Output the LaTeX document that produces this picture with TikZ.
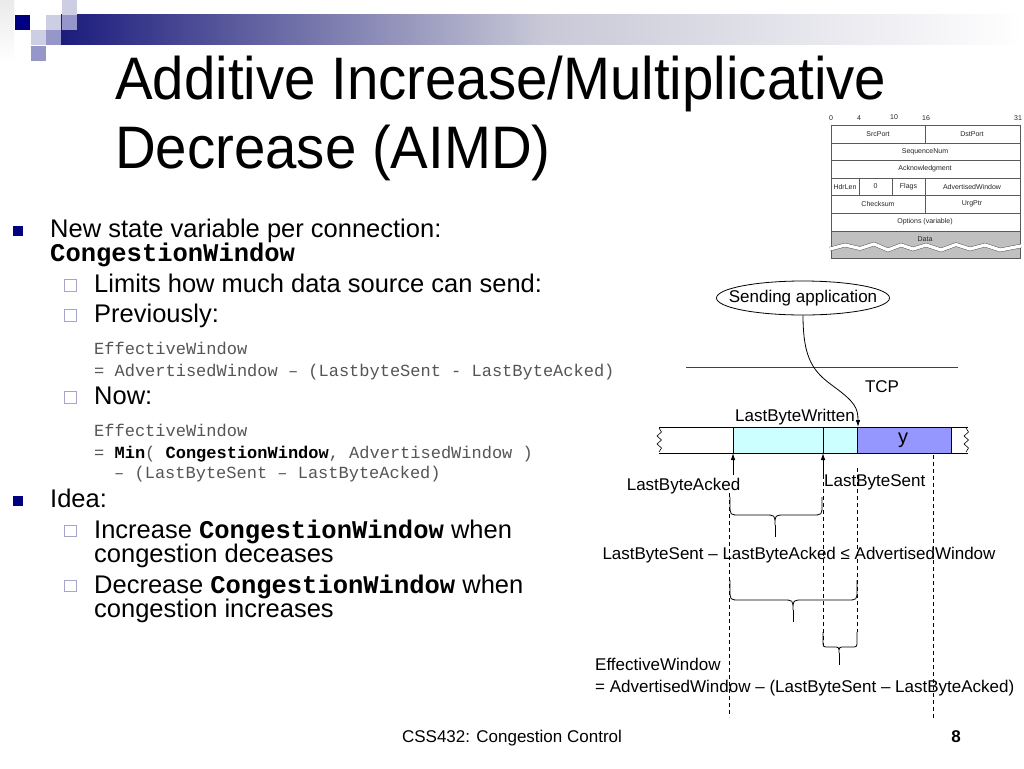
\documentclass[tikz,border=0pt]{standalone}
\usepackage{fontspec}
\setmainfont{Liberation Sans}
\setmonofont{Liberation Mono}
\newfontfamily\titlefont[FakeStretch=0.94]{Liberation Sans}
\usetikzlibrary{arrows.meta,shapes.geometric}
\definecolor{navy}{RGB}{0,0,128}
\definecolor{barnavy}{RGB}{28,28,125}
\definecolor{barmid}{RGB}{200,200,215}
\definecolor{sqlight}{RGB}{205,205,228}
\definecolor{sqmed}{RGB}{150,150,200}
\definecolor{subbox}{RGB}{165,165,205}
\definecolor{codegray}{RGB}{85,85,85}
\definecolor{bufcyan}{RGB}{204,255,255}
\definecolor{bufblue}{RGB}{150,150,255}
\definecolor{datagray}{RGB}{192,192,192}
\definecolor{tblline}{RGB}{90,90,90}
\newcommand\drawbrace[7]{% xl xr ytop ymid xc ytip r
  \draw[bracestyle] (#1,#3) -- (#1,#4-#7) .. controls (#1,#4) .. (#1+#7,#4)
    -- (#5-#7,#4) .. controls (#5,#4) .. (#5,#4+#7)
    .. controls (#5,#4) .. (#5+#7,#4) -- (#2-#7,#4)
    .. controls (#2,#4) .. (#2,#4-#7) -- (#2,#3);
  \draw[bracestyle] (#5,#4+#7) -- (#5,#6);}
\begin{document}
\begin{tikzpicture}[x=1pt,y=-1pt,
  txt/.style={anchor=base west, inner sep=0pt, font=\fontsize{25.5}{25.5}\selectfont},
  code/.style={anchor=base west, inner sep=0pt, font=\fontsize{17}{17}\selectfont\ttfamily, text=codegray},
  bulletsq/.style={fill=navy, minimum size=10pt, inner sep=0pt},
  subsq/.style={draw=subbox, fill=white, minimum size=11.5pt, inner sep=0pt, line width=0.8pt},
  dia/.style={font=\fontsize{17}{17}\selectfont, inner sep=0pt},
  hdr/.style={font=\fontsize{7}{7}\selectfont, inner sep=0pt, text=black!85},
  dashline/.style={dash pattern=on 4pt off 3pt, line width=0.7pt},
  bracestyle/.style={line width=0.8pt},
  tiparrow/.style={-{Latex[length=7pt,width=4.5pt]}, line width=0.8pt},
  tbl/.style={draw=tblline, line width=0.5pt}]
\useasboundingbox (0,0) rectangle (1024,768);
\fill[white] (0,0) rectangle (1024,768);
% ---- top decoration ----
\shade[top color=black!8, bottom color=white] (0,0) rectangle (14,62);
\shade[left color=barnavy, right color=white, middle color=barmid] (61,15) rectangle (1024,45);
\fill[sqlight] (62,0) rectangle (77,15);
\fill[navy] (15,15) rectangle (30,30);
\fill[sqlight] (46,15) rectangle (61,30);
\fill[sqmed] (62,15) rectangle (77,30);
\fill[sqlight] (31,30) rectangle (46,45);
\fill[sqmed] (46,30) rectangle (61,45);
\fill[sqmed] (31,46) rectangle (46,61);
% ---- title ----
\node[anchor=base west, inner sep=0pt, font=\titlefont\fontsize{60}{60}\selectfont] (t1) at (115,99) {Additive Increase/Multiplicative};
\node[anchor=base west, inner sep=0pt, font=\titlefont\fontsize{60}{60}\selectfont] (t2) at (115,168) {Decrease (AIMD)};
% ---- bullets ----
\node[bulletsq] (b1) at (17.5,230.5) {};
\node[txt] (l1) at (50,237) {New state variable per connection:};
\node[txt] (l2) at (50,261) {\texttt{\textbf{CongestionWindow}}};
\node[subsq] (s1) at (70.5,285.5) {};
\node[txt] (l3) at (94,292.5) {Limits how much data source can send:};
\node[subsq] (s2) at (70.5,315.5) {};
\node[txt] (l4) at (94,322.5) {Previously:};
\node[code] (c1) at (94,354) {EffectiveWindow};
\node[code] (c2) at (94,376) {= AdvertisedWindow – (LastbyteSent - LastByteAcked)};
\node[subsq] (s3) at (70.5,397.5) {};
\node[txt] (l5) at (94,404.5) {Now:};
\node[code] (c3) at (94,436) {EffectiveWindow};
\node[code] (c4) at (94,458) {= \textcolor{black}{\textbf{Min}}( \textcolor{black}{\textbf{CongestionWindow}}, AdvertisedWindow )};
\node[code] (c5) at (114,478) {– (LastByteSent – LastByteAcked)};
\node[bulletsq] (b2) at (17.5,500.5) {};
\node[txt] (l6) at (50,507.5) {Idea:};
\node[subsq] (s4) at (70.5,531) {};
\node[txt] (l7) at (94,538) {Increase \texttt{\textbf{CongestionWindow}} when};
\node[txt] (l8) at (94,562) {congestion deceases};
\node[subsq] (s5) at (70.5,586) {};
\node[txt] (l9) at (94,593) {Decrease \texttt{\textbf{CongestionWindow}} when};
\node[txt] (l10) at (94,617) {congestion increases};
% ---- footer ----
\node[anchor=base, inner sep=0pt, font=\fontsize{17}{17}\selectfont] (foot) at (512,742) {CSS432: Congestion Control};
\node[anchor=base, inner sep=0pt, font=\fontsize{17}{17}\selectfont\bfseries] (pg) at (956,742) {8};
% ---- TCP header ----
\fill[datagray] (831,231) rectangle (1020,258);
\draw[tbl] (831,125) rectangle (1020,258);
\foreach \yy in {143,160,178,195,213,231} \draw[tbl] (831,\yy) -- (1020,\yy);
\draw[tbl] (925.5,125) -- (925.5,143);
\draw[tbl] (859,178) -- (859,195);
\draw[tbl] (892,178) -- (892,195);
\draw[tbl] (925.5,178) -- (925.5,213);
\draw[draw=tblline, line width=0.5pt, double=white, double distance=3.2pt]
  (830,249) -- (845,245) -- (860,248.5) -- (874,244) -- (888,250) -- (901,245) -- (913,249)
  -- (926,245) -- (941,250) -- (956,244.5) -- (970,249) -- (985,245) -- (1000,250) -- (1021,246);
\node[hdr] (n0) at (831,118) {0};
\node[hdr] (n4) at (859,118) {4};
\node[hdr] (n10) at (894,117.5) {10};
\node[hdr] (n16) at (926,118) {16};
\node[hdr] (n31) at (1018,118) {31};
\node[hdr] (hsp) at (878,134) {SrcPort};
\node[hdr] (hdp) at (972,134) {DstPort};
\node[hdr] (hsn) at (925,151.5) {SequenceNum};
\node[hdr] (hak) at (925,169) {Acknowledgment};
\node[hdr] (hhl) at (845,186.5) {HdrLen};
\node[hdr] (hz) at (875.5,186.5) {0};
\node[hdr] (hfl) at (908.5,186.5) {Flags};
\node[hdr] (haw) at (972,186.5) {AdvertisedWindow};
\node[hdr] (hck) at (878,204) {Checksum};
\node[hdr] (hup) at (972,204) {UrgPtr};
\node[hdr] (hop) at (925,222) {Options (variable)};
\node[hdr] (hdt) at (925,239) {Data};
% ---- sending application diagram ----
\node[ellipse, draw, line width=0.8pt, minimum width=173pt, minimum height=34pt, inner sep=0pt] (app) at (803,298) {};
\node[dia] (applbl) at (app.center) {Sending application};
\coordinate (hl) at (686,367);
\coordinate (hr) at (958,367);
\draw[line width=0.7pt, black!75] (hl) -- (hr);
\node[dia] (tcp) at (882,387) {TCP};
\node[dia, anchor=base east] (lbw) at (855,421) {LastByteWritten};
\coordinate (wtip) at (858,427);
\draw[tiparrow] (app.south) .. controls (803,360) and (814,372) .. (833,386)
  .. controls (855,402) and (858,408) .. (wtip);
% buffer
\fill[bufcyan] (733,427) rectangle (857,453);
\fill[bufblue] (857,427) rectangle (951,453);
\draw[line width=0.6pt] (659,427) -- (968,427);
\draw[line width=0.6pt] (659,453) -- (968,453);
\draw[line width=1pt] (733,453) -- (951,453);
\draw[line width=0.8pt] (733,427) -- (733,453);
\draw[line width=0.8pt] (823,427) -- (823,453);
\draw[line width=0.8pt] (857,427) -- (857,453);
\draw[line width=0.8pt] (951,427) -- (951,453);
\draw[line width=0.6pt] (659,428) -- (661.5,432) -- (657,436) -- (661.5,440) -- (657,444) -- (661.5,448) -- (659,452);
\draw[line width=0.6pt] (966,428) -- (968.5,432) -- (964,436) -- (968.5,440) -- (964,444) -- (968.5,448) -- (966,452);
\node[font=\fontsize{20}{20}\selectfont, inner sep=0pt] (ylab) at (903,440) {y};
% pointers
\coordinate (ackpt) at (733,453);
\coordinate (ackbase) at (733,475);
\coordinate (sentpt) at (823,453);
\coordinate (sentbase) at (823,475);
\draw[tiparrow] (ackbase) -- (ackpt);
\draw[tiparrow] (sentbase) -- (sentpt);
\node[dia, anchor=base] (lba) at (683.5,490.5) {LastByteAcked};
\node[dia, anchor=base west] (lbs) at (824,486.5) {LastByteSent};
% dashed guides
\draw[dashline] (729,493) -- (729,717);
\draw[dashline] (823,475) -- (823,646);
\draw[dashline] (857,468) -- (857,632);
\draw[dashline] (933,455) -- (933,718);
% braces
\drawbrace{730}{822}{497}{515}{775}{537}{10}
\drawbrace{730}{857}{580}{600}{793}{622}{10}
\drawbrace{823}{857}{632}{647}{839}{665}{6}
\node[dia, anchor=base] (ineq) at (799,559) {LastByteSent – LastByteAcked ≤ AdvertisedWindow};
\node[dia, anchor=base west] (ew1) at (595,670) {EffectiveWindow};
\node[dia, anchor=base west] (ew2) at (595,692) {= AdvertisedWindow – (LastByteSent – LastByteAcked)};
\end{tikzpicture}
\end{document}
